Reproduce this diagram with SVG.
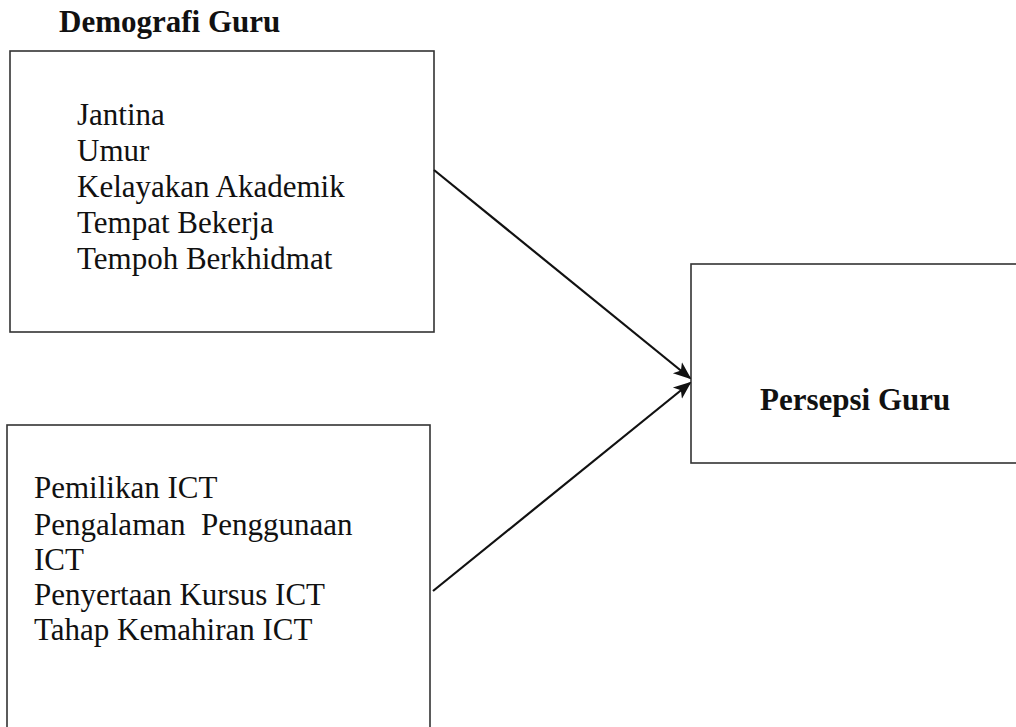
<svg xmlns="http://www.w3.org/2000/svg" width="1016" height="727" viewBox="0 0 1016 727">
<style>
.box{fill:none;stroke:#333;stroke-width:1.6}
.t{font-family:"Liberation Serif","Times New Roman",serif;font-size:31px;fill:#111}
.b{font-weight:bold}
.c{stroke:#111;stroke-width:2.2;fill:none}
</style>
<defs>
<marker id="ah" viewBox="0 0 10 10" refX="9" refY="5" markerWidth="10" markerHeight="10" markerUnits="userSpaceOnUse" orient="auto">
<path d="M0,0 L10,5 L0,10 L2.5,5 z" fill="#111"/>
</marker>
<marker id="ah2" viewBox="0 0 10 10" refX="9" refY="5" markerWidth="18" markerHeight="18" markerUnits="userSpaceOnUse" orient="auto">
<path d="M0,1 L10,5 L0,9 L2.5,5 z" fill="#111"/>
</marker>
</defs>
<rect width="1016" height="727" fill="#fff"/>
<g id="demografi">
<text class="t b" x="59" y="32">Demografi Guru</text>
<rect class="box" x="10" y="51" width="424" height="281"/>
<text class="t" x="77" y="125">Jantina</text>
<text class="t" x="77" y="161">Umur</text>
<text class="t" x="77" y="197">Kelayakan Akademik</text>
<text class="t" x="77" y="233">Tempat Bekerja</text>
<text class="t" x="77" y="269">Tempoh Berkhidmat</text>
</g>
<g id="ict">
<rect class="box" x="7" y="425" width="423" height="320"/>
<text class="t" x="34" y="498">Pemilikan ICT</text>
<text class="t" x="34" y="535" xml:space="preserve">Pengalaman  Penggunaan</text>
<text class="t" x="34" y="570">ICT</text>
<text class="t" x="34" y="605">Penyertaan Kursus ICT</text>
<text class="t" x="34" y="640">Tahap Kemahiran ICT</text>
</g>
<g id="persepsi">
<rect class="box" x="691" y="264" width="340" height="199"/>
<text class="t b" x="760" y="410">Persepsi Guru</text>
</g>
<g id="connectors">
<line class="c" x1="434" y1="170" x2="690" y2="378" marker-end="url(#ah2)"/>
<line class="c" x1="433" y1="591" x2="690" y2="383" marker-end="url(#ah2)"/>
</g>
</svg>
